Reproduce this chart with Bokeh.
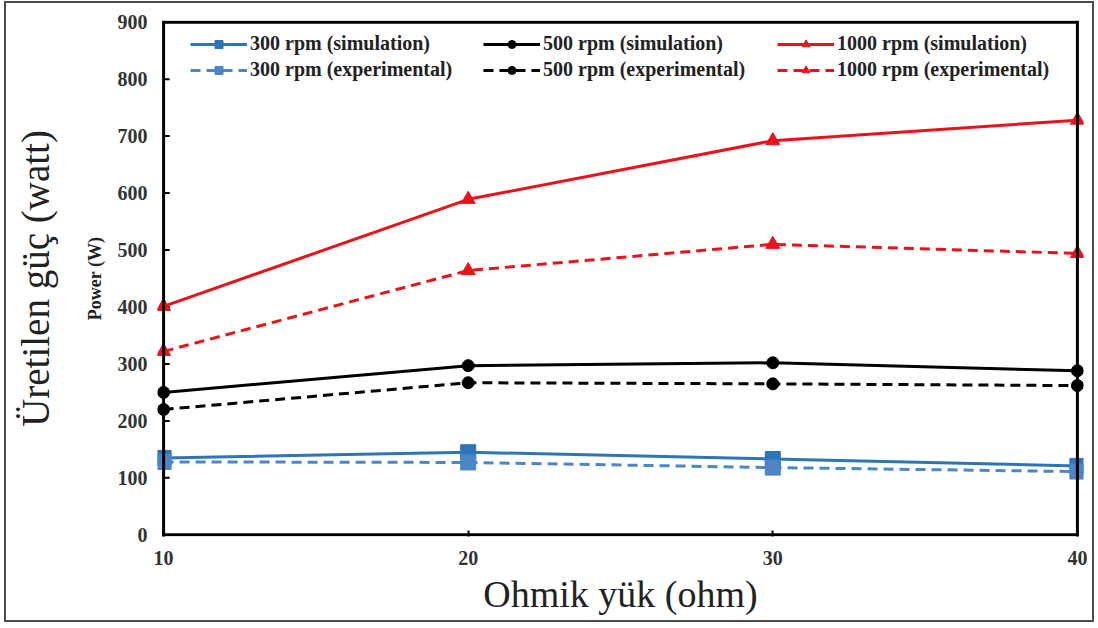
from bokeh.plotting import figure
from bokeh.models import Span, Legend, LegendItem, FixedTicker, LinearAxis
from bokeh.embed import file_html
from bokeh.resources import INLINE

# Ohmic load (ohm)
load = [10, 20, 30, 40]

# Generated power (W)
p300_sim = [135, 145, 133, 121]
p300_exp = [128, 127, 118, 111]
p500_sim = [250, 297, 302, 288]
p500_exp = [220, 267, 265, 262]
p1000_sim = [401, 589, 692, 728]
p1000_exp = [322, 464, 510, 494]

x_ticks = [10, 20, 30, 40]
y_ticks = [0, 100, 200, 300, 400, 500, 600, 700, 800, 900]

X_MIN, X_MAX = 10, 40
Y_MIN, Y_MAX = 0, 900

BLUE = "#2E75B6"
BLUE_EXP = "#4C86C4"
BLACK = "#000000"
RED = "#E8141B"
SERIF = "Liberation Serif"

p = figure(width=1090, height=621,
           x_range=(X_MIN - 0.2, X_MAX + 0.2), y_range=(Y_MIN - 3, Y_MAX + 3),
           output_backend="svg", toolbar_location=None,
           min_border_left=151, min_border_right=13,
           min_border_top=17, min_border_bottom=88)
p.styles = {"border": "2px solid #4d4d4d", "margin-left": "4px", "margin-top": "1px"}
p.outline_line_color = None
p.grid.grid_line_color = None
p.background_fill_color = "white"
p.border_fill_color = "white"

# axes
p.xaxis.ticker = FixedTicker(ticks=x_ticks)
p.yaxis.ticker = FixedTicker(ticks=y_ticks)
for ax in (p.xaxis, p.yaxis):
    ax.axis_line_color = None
    ax.minor_tick_line_color = None
    ax.major_label_text_font = SERIF
    ax.major_label_text_font_style = "bold"
    ax.major_label_text_font_size = "20px"
    ax.major_label_text_color = "#333333"
p.xaxis.major_tick_in = 6
p.xaxis.major_tick_out = 0
p.xaxis.major_tick_line_width = 2
p.xaxis.major_label_standoff = 14
p.yaxis.major_tick_in = 0
p.yaxis.major_tick_out = 0
p.yaxis.major_label_standoff = 10

p.xaxis.axis_label = "Ohmik yük (ohm)"
p.xaxis.axis_label_text_font = SERIF
p.xaxis.axis_label_text_font_style = "normal"
p.xaxis.axis_label_text_font_size = "38px"
p.xaxis.axis_label_text_color = "#222222"
p.xaxis.axis_label_standoff = 5

p.yaxis.axis_label = "Power (W)"
p.yaxis.axis_label_text_font = SERIF
p.yaxis.axis_label_text_font_style = "bold"
p.yaxis.axis_label_text_font_size = "18px"
p.yaxis.axis_label_text_color = "#222222"
p.yaxis.axis_label_standoff = 10

# outer title axis on the left
title_axis = LinearAxis(ticker=FixedTicker(ticks=[]), axis_line_color=None,
                        major_tick_out=0, major_tick_in=0, minor_tick_out=0,
                        minor_tick_line_color=None, major_tick_line_color=None,
                        axis_label="Üretilen güç (watt)", axis_label_text_font=SERIF,
                        axis_label_text_font_style="normal",
                        axis_label_text_font_size="39px",
                        axis_label_text_color="#222222", axis_label_standoff=25)
p.add_layout(title_axis, "left")

# plot frame drawn on the data limits
for xv in (X_MIN, X_MAX):
    p.add_layout(Span(location=xv, dimension="height", line_color="black", line_width=3))
p.segment(x0=[X_MIN, X_MIN], y0=[Y_MIN, Y_MAX], x1=[X_MAX, X_MAX], y1=[Y_MIN, Y_MAX],
          line_color="black", line_width=3)
# inward y ticks
inner = y_ticks[1:-1]
p.segment(x0=[X_MIN] * len(inner), y0=inner, x1=[X_MIN + 0.2] * len(inner), y1=inner,
          line_color="black", line_width=2)

series = [
    ("300 rpm (simulation)", p300_sim, BLUE, "solid", "square", 15),
    ("300 rpm (experimental)", p300_exp, BLUE_EXP, "dashed", "square", 15),
    ("500 rpm (simulation)", p500_sim, BLACK, "solid", "circle", 12),
    ("500 rpm (experimental)", p500_exp, BLACK, "dashed", "circle", 12),
    ("1000 rpm (simulation)", p1000_sim, RED, "solid", "triangle", 14),
    ("1000 rpm (experimental)", p1000_exp, RED, "dashed", "triangle", 14),
]

items = []
for label, vals, color, dash, marker, size in series:
    ln = p.line(load, vals, line_color=color, line_width=3,
                line_dash="10 6" if dash == "dashed" else "solid")
    sc = p.scatter(load, vals, marker=marker, size=size, fill_color=color, line_color=color)
    items.append(LegendItem(label=label, renderers=[ln, sc]))

# one legend per rpm column
for col, x_off in enumerate([33, 326, 620]):
    lg = Legend(items=items[2 * col:2 * col + 2], location=(x_off, 455),
                orientation="vertical",
                label_text_font=SERIF, label_text_font_style="bold",
                label_text_font_size="20px", label_text_color="#222222",
                glyph_width=57, glyph_height=20, label_height=20,
                label_standoff=3, spacing=3, padding=0, margin=0,
                border_line_color=None, background_fill_alpha=0)
    p.add_layout(lg)

open("out.html", "w").write(file_html(p, INLINE))
